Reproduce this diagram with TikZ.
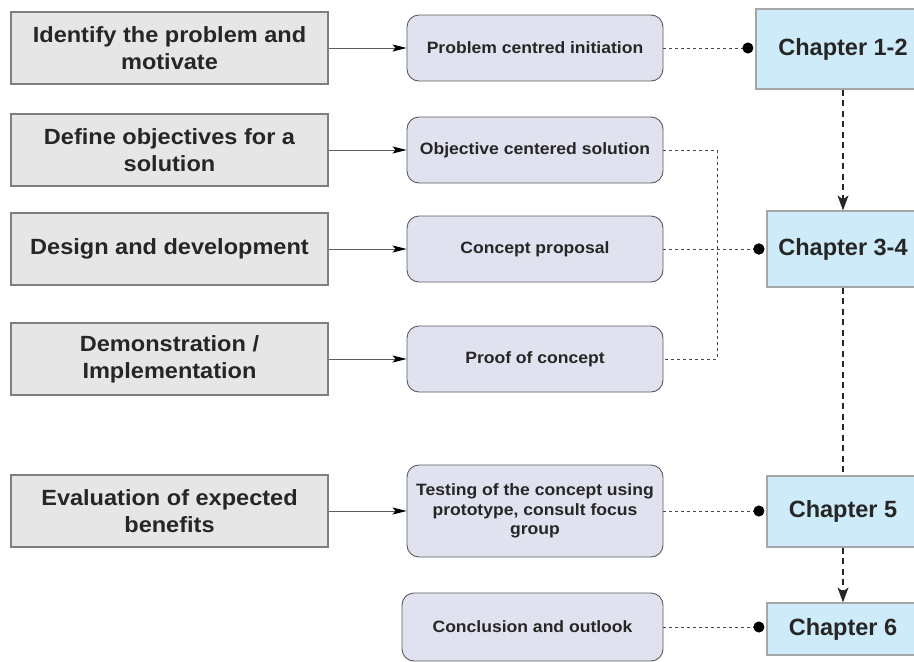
\documentclass[tikz,border=0pt]{standalone}
\usepackage{fontspec}
\setmainfont{Liberation Sans}
\newfontfamily\stepfont[FakeStretch=1.07]{Liberation Sans}
\usetikzlibrary{arrows.meta}
\definecolor{stepfill}{HTML}{E6E6E6}
\definecolor{stepline}{HTML}{7F7F7F}
\definecolor{actfill}{HTML}{E1E2F0}
\definecolor{actline}{HTML}{5A5A5A}
\definecolor{chapfill}{HTML}{CDEBF8}
\definecolor{chapline}{HTML}{A6A6A6}
\definecolor{ink}{HTML}{262626}
\tikzset{
  stepbox/.style={draw=stepline, fill=stepfill, line width=1.2pt, minimum width=317pt,
    minimum height=72pt, inner sep=0pt, align=center, text=ink,
    font=\stepfont\bfseries\fontsize{22}{27}\selectfont},
  actbox/.style={draw=actline, fill=actfill, line width=0.9pt, rounded corners=12pt,
    minimum width=256pt, minimum height=66pt, inner sep=0pt, align=center, text=ink,
    font=\stepfont\bfseries\fontsize{16.4}{19.5}\selectfont},
  chapbox/.style={draw=chapline, fill=chapfill, line width=1.2pt, minimum width=152pt,
    inner sep=0pt, align=center, text=ink, font=\bfseries\fontsize{23.5}{27}\selectfont},
  feed/.style={draw=ink!75, line width=1pt, -{Stealth[length=14pt,width=7pt,inset=3pt,color=black]}},
  link/.style={draw=ink!85, line width=0.8pt, dash pattern=on 3pt off 3pt},
  linkdot/.style={link, -{Circle[length=11pt,sep=2pt,color=black]}},
  flow/.style={draw=ink, line width=1.4pt, dash pattern=on 6pt off 4.5pt},
  flowarrow/.style={flow, -{Stealth[length=15pt,width=11pt,inset=4pt]}},
}
\begin{document}
\begin{tikzpicture}[x=1pt, y=-1pt]
\useasboundingbox (0,0) rectangle (914,662);

% process steps
\node[stepbox] (s1) at (169.5,48)  {Identify the problem and\\motivate};
\node[stepbox] (s2) at (169.5,150) {Define objectives for a\\solution};
\node[stepbox] (s3) at (169.5,249) {Design and development};
\node[stepbox] (s4) at (169.5,359) {Demonstration /\\Implementation};
\node[stepbox] (s5) at (169.5,511) {Evaluation of expected\\benefits};

% research activities
\node[actbox] (a1) at (535,48)  {Problem centred initiation};
\node[actbox] (a2) at (535,150) {Objective centered solution};
\node[actbox] (a3) at (535,249) {Concept proposal};
\node[actbox] (a4) at (535,359) {Proof of concept};
\node[actbox, minimum height=92pt] (a5) at (535,511) {Testing of the concept using\\prototype, consult focus\\group};
\node[actbox, minimum width=261pt, minimum height=68pt] (a6) at (532.5,627) {Conclusion and outlook};

% chapters
\node[chapbox, minimum width=174pt, minimum height=80pt] (c12) at (843,49) {Chapter 1-2};
\node[chapbox, minimum height=76pt] (c34) at (843,249) {Chapter 3-4};
\node[chapbox, minimum height=71pt] (c5)  at (843,511.5) {Chapter 5};
\node[chapbox, minimum height=52pt] (c6)  at (843,629) {Chapter 6};

% steps feed activities
\draw[feed] (s1) -- (a1);
\draw[feed] (s2) -- (a2);
\draw[feed] (s3) -- (a3);
\draw[feed] (s4) -- (a4);
\draw[feed] (s5) -- (a5);

% activities mapped to chapters
\coordinate (j2) at (717,150);
\coordinate (j4) at (717,359);
\coordinate (j3) at (717,249);
\draw[linkdot] (a1.east) -- (c12.west |- a1.east);
\draw[link] (a2.east) -- (j2) -- (j4) -- (a4.east);
\draw[linkdot] (j3) -- (c34.west);
\draw[linkdot] (a3.east) -- (c34.west);
\draw[linkdot] (a5.east) -- (c5.west |- a5.east);
\draw[linkdot] (a6.east) -- (c6.west |- a6.east);

% chapter sequence
\draw[flowarrow] (c12.south) -- (c34.north);
\draw[flow] (c34.south) -- (c5.north);
\draw[flowarrow] (c5.south) -- (c6.north);
\end{tikzpicture}
\end{document}
